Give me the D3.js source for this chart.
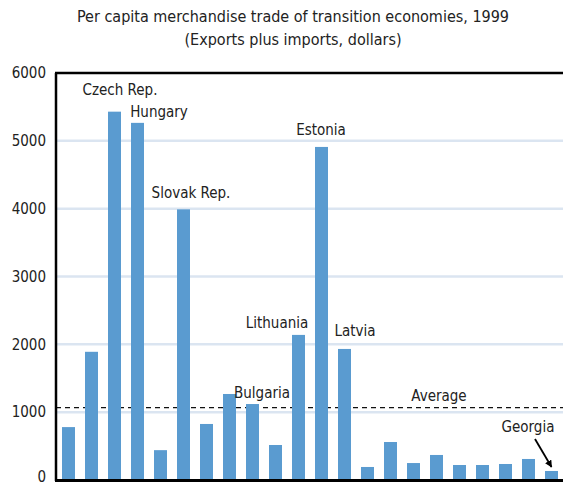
<!DOCTYPE html>
<html><head><meta charset="utf-8">
<script src="https://cdn.jsdelivr.net/npm/d3@7"></script>
<style>
body{margin:0;background:#fff;}
svg{display:block;}
text{font-family:"Liberation Sans Narrow","Arial Narrow","DejaVu Sans Condensed",sans-serif;fill:#222;}
</style></head><body>
<svg id="chart" width="563" height="486"></svg>
<script>
const countries = ["c1","c2","Czech Rep.","Hungary","c5","Slovak Rep.","c7","c8","Bulgaria","c10","Lithuania","Estonia","Latvia","c14","c15","c16","c17","c18","c19","c20","c21","Georgia"];
const values = [780,1890,5430,5265,440,3990,826,1268,1120,516,2139,4910,1932,192,560,250,369,221,221,236,310,133];
const labeled = ["Czech Rep.","Hungary","Slovak Rep.","Bulgaria","Lithuania","Estonia","Latvia","Georgia"];
const average = 1066;
const yTicks = [0,1000,2000,3000,4000,5000,6000];
const title = "Per capita merchandise trade of transition economies, 1999";
const subtitle = "(Exports plus imports, dollars)";

(function(){
const svg = d3.select("#chart");
const pL = 56, pR = 563, pT = 73, pB = 480;

const x = d3.scaleBand().domain(countries).range([57, 563]).paddingInner(0.435).paddingOuter(0.2175);
const y = d3.scaleLinear().domain([0, 6000]).range([pB, pT]);

// title
svg.append("text").attr("x", 293).attr("y", 22).attr("text-anchor","middle").attr("font-size", 16).text(title);
svg.append("text").attr("x", 293).attr("y", 45).attr("text-anchor","middle").attr("font-size", 16).text(subtitle);

// gridlines
svg.append("g").selectAll("line").data(yTicks.filter(d => d > 0 && d < 6000)).join("line")
  .attr("x1", pL).attr("x2", pR).attr("y1", d => y(d)).attr("y2", d => y(d))
  .attr("stroke", "#dbe5f1").attr("stroke-width", 2.5);

// average dashed line
svg.append("line").attr("x1", pL).attr("x2", pR).attr("y1", y(average)).attr("y2", y(average))
  .attr("stroke", "#111").attr("stroke-width", 1.3).attr("stroke-dasharray", "5,4");

// bars
svg.append("g").selectAll("rect").data(values).join("rect")
  .attr("x", (d,i) => x(countries[i])).attr("width", x.bandwidth())
  .attr("y", d => y(d)).attr("height", d => pB - y(d))
  .attr("fill", "#5a9bd0");

// y axis
const yAxis = d3.axisLeft(y).tickValues(yTicks).tickSize(0).tickPadding(10).tickFormat(d3.format("d"));
const ga = svg.append("g").attr("transform", `translate(${pL},0)`).call(yAxis);
ga.select(".domain").remove();
ga.selectAll("text").attr("font-size", 15).attr("font-family", "Liberation Sans Narrow, Arial Narrow, DejaVu Sans Condensed, sans-serif").attr("fill","#222")
  .attr("y", d => d === 0 ? -3 : 0);

// frame lines
svg.append("line").attr("x1", pL).attr("x2", pL).attr("y1", pT).attr("y2", pB + 1).attr("stroke","#000").attr("stroke-width", 2.5);
svg.append("line").attr("x1", pL - 1).attr("x2", pR).attr("y1", pB + 0.5).attr("y2", pB + 0.5).attr("stroke","#000").attr("stroke-width", 3);
svg.append("line").attr("x1", pL - 1).attr("x2", pR).attr("y1", pT).attr("y2", pT).attr("stroke","#000").attr("stroke-width", 2.5);

// labels
const lbl = {
  "Czech Rep.": [120, 95],
  "Hungary": [159, 117],
  "Slovak Rep.": [191, 198],
  "Bulgaria": [262, 398],
  "Lithuania": [277, 328],
  "Estonia": [321, 135],
  "Latvia": [355, 336],
  "Georgia": [528, 432]
};
svg.append("g").selectAll("text").data(labeled).join("text")
  .attr("x", d => lbl[d][0]).attr("y", d => lbl[d][1]).attr("text-anchor","middle")
  .attr("font-size", 15).text(d => d);
svg.append("text").attr("x", 439).attr("y", 401).attr("text-anchor","middle").attr("font-size", 15).text("Average");

// arrow to Georgia
const gx = x("Georgia") + x.bandwidth()/2;
const gy = y(values[values.length-1]);
svg.append("defs").append("marker").attr("id","ah").attr("viewBox","0 0 10 10").attr("refX",9).attr("refY",5)
  .attr("markerWidth",4).attr("markerHeight",4).attr("orient","auto")
  .append("path").attr("d","M0,0 L10,5 L0,10 Z").attr("fill","#000");
svg.append("line").attr("x1", 535).attr("y1", 439).attr("x2", gx).attr("y2", gy - 4)
  .attr("stroke","#000").attr("stroke-width",1.8).attr("marker-end","url(#ah)");
})();
</script>
</body></html>
